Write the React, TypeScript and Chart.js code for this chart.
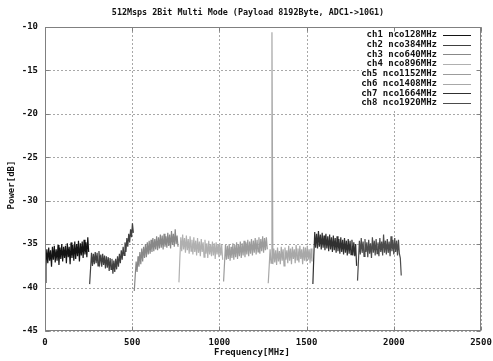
import React, { useEffect, useRef } from "react";
import { Chart, registerables } from "chart.js";

Chart.register(...registerables);

const TITLE = "512Msps 2Bit Multi Mode (Payload 8192Byte, ADC1->10G1)";
const X_LABEL = "Frequency[MHz]";
const Y_LABEL = "Power[dB]";

const CHANNEL_NAMES = [
  "ch1 nco128MHz",
  "ch2 nco384MHz",
  "ch3 nco640MHz",
  "ch4 nco896MHz",
  "ch5 nco1152MHz",
  "ch6 nco1408MHz",
  "ch7 nco1664MHz",
  "ch8 nco1920MHz",
];
const CHANNEL_START_MHZ = [0, 256, 512, 768, 1024, 1280, 1536, 1792];
const CHANNEL_BANDWIDTH_MHZ = 256;

const X_TICKS = [0, 500, 1000, 1500, 2000, 2500];
const Y_TICKS = [-10, -15, -20, -25, -30, -35, -40, -45];

const CH1 = [-39.4, -37.5, -35.6, -37.2, -35.4, -36.9, -35.7, -37.6, -35.3, -36.8, -35.2, -37.1, -35.6, -36.9, -35.1, -37.4, -35.4, -36.7, -35.0, -37.0, -35.3, -36.6, -35.2, -37.2, -34.9, -36.5, -35.3, -37.3, -34.8, -36.6, -35.1, -36.9, -34.7, -36.7, -35.0, -36.4, -34.6, -37.0, -34.9, -36.3, -34.7, -36.6, -34.5, -36.2, -34.8, -36.5, -34.2, -35.9];
const CH2 = [-39.6, -37.8, -36.0, -37.5, -36.1, -37.3, -35.9, -37.2, -36.0, -37.5, -35.8, -37.1, -36.2, -37.6, -36.1, -37.4, -36.3, -37.8, -36.4, -37.7, -36.5, -38.1, -36.6, -37.9, -36.7, -38.4, -36.9, -38.2, -36.7, -37.9, -36.4, -37.6, -36.1, -37.2, -35.7, -36.8, -35.3, -36.3, -34.8, -35.9, -34.3, -35.3, -33.8, -34.8, -33.3, -34.2, -32.6, -33.7];
const CH3 = [-40.4, -38.6, -37.0, -38.2, -36.4, -37.6, -35.9, -37.3, -35.5, -37.0, -35.3, -36.6, -35.0, -36.5, -34.8, -36.2, -34.6, -36.1, -34.5, -35.9, -34.3, -35.8, -34.4, -35.6, -34.1, -35.7, -34.2, -35.5, -33.9, -35.4, -34.0, -35.6, -33.8, -35.3, -34.1, -35.4, -33.7, -35.2, -33.9, -35.5, -33.5, -35.1, -33.8, -35.3, -33.3, -35.0, -34.0, -35.3];
const CH4 = [-39.4, -36.6, -34.2, -35.8, -33.9, -35.6, -34.3, -36.0, -34.0, -35.7, -34.4, -36.1, -34.1, -35.8, -34.5, -36.2, -34.2, -35.9, -34.6, -36.3, -34.3, -36.0, -34.7, -36.4, -34.4, -35.9, -34.8, -36.5, -34.5, -36.1, -34.9, -36.6, -34.6, -36.2, -35.0, -36.4, -34.7, -36.3, -34.9, -36.7, -34.8, -36.2, -35.0, -36.5, -34.9, -36.3, -35.1, -36.8];
const CH5 = [-39.3, -37.2, -35.1, -36.8, -35.2, -36.7, -35.0, -36.9, -35.3, -36.6, -34.9, -36.8, -35.1, -36.5, -34.8, -36.7, -35.0, -36.4, -34.7, -36.6, -34.9, -36.3, -34.6, -36.5, -34.8, -36.2, -34.5, -36.4, -34.7, -36.1, -34.4, -36.3, -34.6, -36.0, -34.3, -36.2, -34.5, -35.9, -34.2, -36.1, -34.4, -35.8, -34.1, -36.0, -34.3, -35.7, -34.2, -35.6];
const CH6 = [-39.5, -37.6, -35.6, -37.2, -10.6, -37.3, -35.5, -37.1, -35.7, -37.4, -35.4, -37.0, -35.8, -37.3, -35.3, -36.9, -35.6, -37.5, -35.4, -36.8, -35.7, -37.2, -35.2, -36.9, -35.5, -37.3, -35.3, -36.7, -35.6, -37.2, -35.1, -36.8, -35.5, -37.1, -35.2, -36.7, -35.6, -37.3, -35.3, -36.9, -35.4, -37.0, -35.2, -36.8, -35.6, -37.2, -35.5, -37.0];
const CH7 = [-39.6, -36.4, -33.6, -35.4, -33.8, -35.5, -33.5, -35.3, -33.9, -35.6, -33.7, -35.4, -34.0, -35.7, -33.8, -35.5, -34.1, -35.8, -33.9, -35.6, -34.2, -35.9, -34.0, -35.7, -34.3, -36.0, -34.1, -35.8, -34.4, -36.1, -34.2, -35.9, -34.5, -36.2, -34.3, -36.0, -34.6, -36.3, -34.4, -36.1, -34.6, -36.2, -34.5, -36.3, -34.8, -36.4, -35.0, -37.5];
const CH8 = [-39.2, -36.9, -34.6, -36.2, -34.3, -36.0, -34.7, -36.4, -34.4, -35.9, -34.8, -36.5, -34.5, -36.1, -34.9, -36.6, -34.2, -36.0, -34.6, -36.3, -34.4, -36.1, -34.8, -36.4, -34.3, -35.9, -34.7, -36.3, -33.9, -36.0, -34.6, -36.2, -34.4, -36.0, -34.7, -36.4, -34.1, -35.8, -34.5, -36.2, -34.3, -35.9, -34.6, -36.3, -34.5, -36.1, -36.6, -38.6];

const CHANNEL_VALUES = [CH1, CH2, CH3, CH4, CH5, CH6, CH7, CH8];
const LINE_COLORS = ["#141414", "#404040", "#888888", "#b0b0b0", "#9c9c9c", "#a8a8a8", "#303030", "#4c4c4c"];

const FONT_FAMILY = "'DejaVu Sans Mono', 'Liberation Mono', monospace";
const BORDER_COLOR = "#808080";
const GRID_COLOR = "#a8a8a8";
const TEXT_COLOR = "#111111";

const decorPlugin = {
  id: "gnuplotDecor",
  beforeDatasetsDraw(chart: any) {
    const { ctx, chartArea: a, scales } = chart;
    ctx.save();
    ctx.strokeStyle = GRID_COLOR;
    ctx.lineWidth = 1;
    ctx.setLineDash([2, 2]);
    ctx.beginPath();
    X_TICKS.forEach((v) => {
      const x = Math.round(scales.x.getPixelForValue(v)) + 0.5;
      ctx.moveTo(x, a.top);
      ctx.lineTo(x, a.bottom);
    });
    Y_TICKS.forEach((v) => {
      const y = Math.round(scales.y.getPixelForValue(v)) + 0.5;
      ctx.moveTo(a.left, y);
      ctx.lineTo(a.right, y);
    });
    ctx.stroke();
    ctx.restore();
  },
  afterDatasetsDraw(chart: any) {
    const { ctx, chartArea: a, scales } = chart;
    const L = Math.round(a.left) + 0.5;
    const R = Math.round(a.right) - 0.5;
    const T = Math.round(a.top) + 0.5;
    const B = Math.round(a.bottom) - 0.5;
    ctx.save();
    // legend
    const textRight = 437;
    const lineX1 = 443;
    const lineX2 = 471;
    const rowTop = 35;
    const rowStep = 9.7;
    ctx.fillStyle = "#ffffff";
    ctx.fillRect(362, 30, R - 4 - 362, 79);
    ctx.font = `bold 9px ${FONT_FAMILY}`;
    ctx.textAlign = "right";
    ctx.textBaseline = "middle";
    ctx.lineWidth = 1;
    chart.data.datasets.forEach((ds: any, i: number) => {
      const y = rowTop + i * rowStep;
      ctx.fillStyle = TEXT_COLOR;
      ctx.fillText(ds.label, textRight, y);
      ctx.strokeStyle = ds.borderColor;
      ctx.beginPath();
      ctx.moveTo(lineX1, Math.round(y) + 0.5);
      ctx.lineTo(lineX2, Math.round(y) + 0.5);
      ctx.stroke();
    });
    // inner tick marks
    ctx.strokeStyle = BORDER_COLOR;
    ctx.beginPath();
    const tl = 4;
    X_TICKS.forEach((v) => {
      const x = Math.round(scales.x.getPixelForValue(v)) + 0.5;
      ctx.moveTo(x, B);
      ctx.lineTo(x, B - tl);
      ctx.moveTo(x, T);
      ctx.lineTo(x, T + tl);
    });
    Y_TICKS.forEach((v) => {
      const y = Math.round(scales.y.getPixelForValue(v)) + 0.5;
      ctx.moveTo(L, y);
      ctx.lineTo(L + tl, y);
      ctx.moveTo(R, y);
      ctx.lineTo(R - tl, y);
    });
    ctx.stroke();
    // border
    ctx.strokeRect(L, T, R - L, B - T);
    ctx.restore();
  },
  afterDraw(chart: any) {
    const { ctx } = chart;
    ctx.save();
    ctx.fillStyle = TEXT_COLOR;
    ctx.textAlign = "center";
    ctx.textBaseline = "middle";
    ctx.font = `bold 8.4px ${FONT_FAMILY}`;
    ctx.fillText(TITLE, 248, 13);
    ctx.font = `bold 9px ${FONT_FAMILY}`;
    ctx.fillText(X_LABEL, 252, 353);
    ctx.translate(12, 185);
    ctx.rotate(-Math.PI / 2);
    ctx.fillText(Y_LABEL, 0, 0);
    ctx.restore();
  },
};

export default function App() {
  const canvasRef = useRef<HTMLCanvasElement | null>(null);

  useEffect(() => {
    document.body.style.margin = "0";
    const canvas = canvasRef.current;
    if (!canvas) return;
    const binWidth = CHANNEL_BANDWIDTH_MHZ / CH1.length;
    const datasets = CHANNEL_VALUES.map((vals, c) => ({
      label: CHANNEL_NAMES[c],
      data: vals.map((v, i) => ({ x: CHANNEL_START_MHZ[c] + i * binWidth, y: v })),
      borderColor: LINE_COLORS[c],
      backgroundColor: LINE_COLORS[c],
      borderWidth: 1.2,
      pointRadius: 0,
      tension: 0,
      fill: false,
    }));
    const tickFont = { family: FONT_FAMILY, size: 9, weight: "bold" };
    const chart = new Chart(canvas, {
      type: "line",
      data: { datasets },
      plugins: [decorPlugin],
      options: {
        animation: false,
        responsive: false,
        devicePixelRatio: 1,
        layout: { padding: { top: 27, right: 12, left: 0, bottom: 0 } },
        plugins: {
          legend: { display: false },
          title: { display: false },
          tooltip: { enabled: false },
        },
        scales: {
          x: {
            type: "linear",
            min: 0,
            max: 2500,
            afterBuildTicks: (scale: any) => {
              scale.ticks = X_TICKS.map((v) => ({ value: v }));
            },
            afterFit: (scale: any) => {
              scale.height = 30;
              scale.paddingLeft = 0;
              scale.paddingRight = 0;
            },
            ticks: {
              color: TEXT_COLOR,
              font: tickFont,
              padding: 6,
              maxRotation: 0,
              autoSkip: false,
              callback: (v: any) => String(v),
            },
            grid: { display: false, drawTicks: false },
            border: { display: false },
          },
          y: {
            type: "linear",
            min: -45,
            max: -10,
            afterBuildTicks: (scale: any) => {
              scale.ticks = Y_TICKS.map((v) => ({ value: v }));
            },
            afterFit: (scale: any) => {
              scale.width = 45;
              scale.paddingTop = 0;
              scale.paddingBottom = 0;
            },
            ticks: {
              color: TEXT_COLOR,
              font: tickFont,
              padding: 7,
              autoSkip: false,
              callback: (v: any) => String(v),
            },
            grid: { display: false, drawTicks: false },
            border: { display: false },
          },
        },
      } as any,
    });
    return () => chart.destroy();
  }, []);

  return (
    <div style={{ width: 493, height: 361, position: "relative" }}>
      <canvas ref={canvasRef} width={493} height={361} style={{ display: "block" }} />
    </div>
  );
}
